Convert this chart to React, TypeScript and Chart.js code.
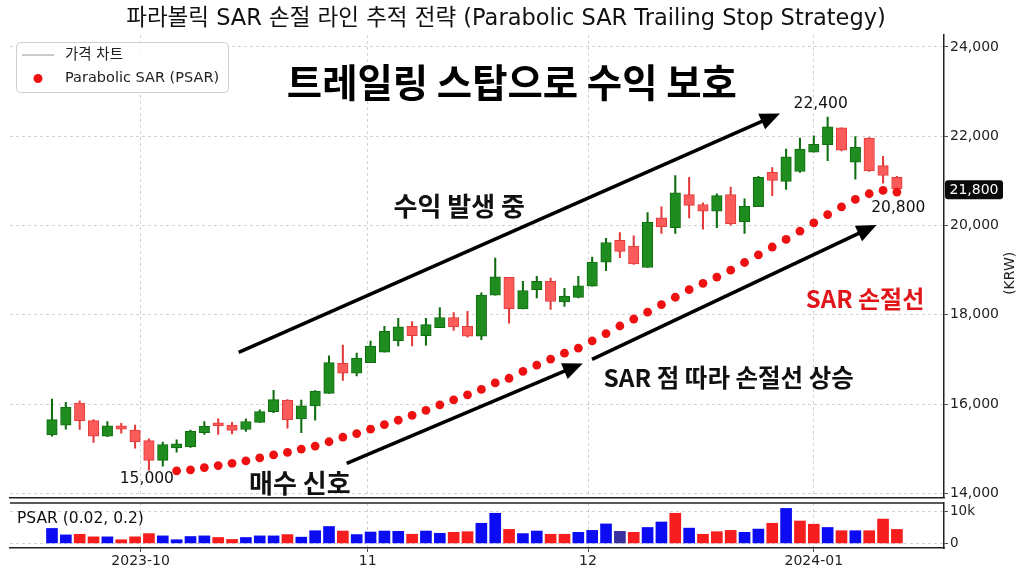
import React, { useEffect, useRef } from "react";
import { Chart, registerables } from "chart.js";

Chart.register(...registerables);

// ---------- data ----------
const opens = [
  15310, 15530, 16020, 15630, 15280, 15510, 15420, 15180, 14740, 15020,
  15040, 15360, 15580, 15530, 15430, 15590, 15830, 16090, 15670, 15960,
  16240, 16910, 16690, 16930, 17160, 17420, 17740, 17530, 17710, 17940,
  17740, 17520, 18440, 18840, 18130, 18560, 18750, 18290, 18390, 18640,
  19180, 19670, 19540, 19060, 20170, 19950, 20690, 20470, 20320, 20690,
  20080, 20420, 21190, 20990, 21210, 21640, 21810, 22190, 21420, 21960,
  21340, 21080,
];
const highs = [
  16110, 16040, 16070, 15650, 15610, 15570, 15530, 15220, 15150, 15200,
  15420, 15610, 15670, 15590, 15670, 15870, 16310, 16100, 16090, 16300,
  17080, 17320, 17140, 17410, 17740, 17920, 17850, 17920, 18160, 18050,
  18080, 18490, 19270, 18840, 18750, 18860, 18820, 18590, 18860, 19290,
  19710, 19840, 19770, 20290, 20420, 21120, 21080, 20510, 20710, 20860,
  20600, 21100, 21300, 21710, 21960, 22010, 22430, 22190, 21990, 21970,
  21550, 21100,
];
const lows = [
  15280, 15440, 15430, 15140, 15270, 15350, 15010, 14520, 14610, 14920,
  15030, 15320, 15320, 15330, 15390, 15590, 15810, 15460, 15360, 15640,
  16240, 16530, 16630, 16930, 17160, 17300, 17300, 17320, 17710, 17650,
  17500, 17440, 18440, 17810, 18130, 18380, 18120, 18190, 18380, 18640,
  18990, 19280, 19130, 19060, 19820, 19820, 20170, 19920, 19950, 20010,
  19820, 20420, 20670, 20810, 21190, 21640, 21450, 21670, 21040, 21210,
  20950, 20710,
];
const closes = [
  15650, 15930, 15630, 15280, 15510, 15440, 15150, 14740, 15090, 15110,
  15390, 15500, 15510, 15410, 15610, 15830, 16100, 15650, 15960, 16290,
  16930, 16690, 17030, 17300, 17630, 17730, 17530, 17780, 17940, 17730,
  17520, 18440, 18850, 18130, 18540, 18750, 18300, 18420, 18650, 19180,
  19620, 19420, 19140, 20070, 19970, 20730, 20450, 20320, 20670, 20040,
  20430, 21080, 21010, 21540, 21710, 21820, 22210, 21690, 21750, 21220,
  21120, 20820,
];
const sarValues: (number | null)[] = [
  null, null, null, null, null, null, null, null, null,
  14505, 14527, 14578, 14622, 14673, 14727, 14793, 14860, 14918, 14993,
  15060, 15156, 15260, 15340, 15438, 15540, 15638, 15749, 15860, 15984,
  16096, 16207, 16327, 16473, 16578, 16733, 16873, 17007, 17140, 17251,
  17416, 17578, 17749, 17905, 18059, 18229, 18393, 18562, 18704, 18844,
  19000, 19171, 19340, 19518, 19689, 19873, 20060, 20244, 20416, 20584,
  20711, 20785, 20748,
];
const volumes = [
  4600, 2600, 2800, 2000, 2000, 1100, 2000, 3000, 2300, 1100,
  2100, 2300, 1800, 1200, 1800, 2300, 2300, 2700, 1900, 3900,
  5200, 3800, 2700, 3500, 3800, 3700, 2800, 3800, 3100, 3400,
  3600, 6200, 9300, 4300, 3000, 3800, 2800, 2800, 3400, 4000,
  6000, 3700, 3400, 4900, 6600, 9300, 4700, 2800, 3600, 4000,
  3400, 4400, 6200, 10800, 6900, 5900, 4900, 3900, 3900, 3900,
  7500, 4300,
];
const volumeTones = (
  "bbrrbrrrbb" + "bbrrbbbrbb" + "brbbbbrbbr" + "rbbrbbrrbb" +
  "bprbbrbrrr" + "bbrbrrbrbr" + "rr"
).split("");

const monthTickPos = [6.4, 22.8, 38.7, 55.0];
const monthTickLabels = ["2023-10", "11", "12", "2024-01"];
const priceTicks = [14000, 16000, 18000, 20000, 22000, 24000];
const volumeTicks = [0, 10000];

const titleText = "파라볼릭 SAR 손절 라인 추적 전략 (Parabolic SAR Trailing Stop Strategy)";
const headingText = "트레일링 스탑으로 수익 보호";
const legendLabels = ["가격 차트", "Parabolic SAR (PSAR)"];
const indicatorLabel = "PSAR (0.02, 0.2)";
const axisUnitLabel = "(KRW)";
const lastPriceBadge = { text: "21,800", at: 20800 };

// annotation anchors in data space: [index, price]
const headingAt: [number, number] = [33.2, 23200];
const boldNotes: { text: string; at: [number, number]; size: number; width: number; color: string }[] = [
  { text: "수익 발생 중", at: [29.4, 20444], size: 26, width: 138, color: "#111" },
  { text: "매수 신호", at: [17.9, 14229], size: 26, width: 106, color: "#111" },
  { text: "SAR 점 따라 손절선 상승", at: [48.85, 16600], size: 24.5, width: 262, color: "#111" },
  { text: "SAR 손절선", at: [58.7, 18356], size: 24, width: 124, color: "#e0161b" },
];
const priceNotes: { text: string; at: [number, number] }[] = [
  { text: "22,400", at: [55.5, 22722] },
  { text: "20,800", at: [61.1, 20389] },
  { text: "15,000", at: [6.85, 14318] },
];
const arrows: [number, number, number, number][] = [
  [13.48, 17156, 52.56, 22511],
  [21.28, 14674, 38.32, 16911],
  [38.99, 17000, 59.53, 20011],
];

// ---------- style ----------
const LATIN = '"DejaVu Sans", "Noto Sans CJK KR", sans-serif';
const KR = '"Noto Sans CJK KR", "DejaVu Sans", sans-serif';
const GRID = "rgba(0,0,0,0.22)";
const AXIS = "#222";
const UP_FILL = "#1e8c1e";
const UP_EDGE = "#0f6d0f";
const DN_FILL = "#fb5b5b";
const DN_EDGE = "#e23b3b";
const SAR_RED = "#ee1111";
const TONES: Record<string, string> = { b: "#0c0cf2", r: "#f51d1d", p: "#3a2f9e" };

const X_MIN = -3.03;
const X_MAX = 64.4;
const Y_MIN = 13905;
const Y_MAX = 24267;
const V_MIN = -1455;
const V_MAX = 12477;

const idx = opens.map((_, i) => i);
const isUp = idx.map((i) => closes[i] >= opens[i]);

function drawArrow(ctx: CanvasRenderingContext2D, x1: number, y1: number, x2: number, y2: number) {
  const headLen = 20;
  const headW = 8.5;
  const a = Math.atan2(y2 - y1, x2 - x1);
  const bx = x2 - headLen * Math.cos(a);
  const by = y2 - headLen * Math.sin(a);
  ctx.strokeStyle = "#000";
  ctx.fillStyle = "#000";
  ctx.lineWidth = 3.5;
  ctx.lineCap = "butt";
  ctx.beginPath();
  ctx.moveTo(x1, y1);
  ctx.lineTo(bx + Math.cos(a) * 2, by + Math.sin(a) * 2);
  ctx.stroke();
  ctx.beginPath();
  ctx.moveTo(x2, y2);
  ctx.lineTo(bx + headW * Math.sin(a), by - headW * Math.cos(a));
  ctx.lineTo(bx - headW * Math.sin(a), by + headW * Math.cos(a));
  ctx.closePath();
  ctx.fill();
}

const mainOverlay = {
  id: "mainOverlay",
  afterDraw(chart: any) {
    const { ctx, chartArea: ca } = chart;
    const xs = chart.scales.x;
    const ys = chart.scales.y;
    const px = (i: number) => xs.getPixelForValue(i);
    const py = (v: number) => ys.getPixelForValue(v);
    ctx.save();
    ctx.textAlign = "center";
    ctx.textBaseline = "middle";

    // title
    ctx.fillStyle = "#111";
    ctx.font = `22.5px ${LATIN}`;
    ctx.fillText(titleText, 506, 19, 766);

    // legend
    const lx = ca.left + 6;
    const ly = ca.top + 7;
    ctx.fillStyle = "rgba(255,255,255,0.85)";
    ctx.strokeStyle = "#cfcfcf";
    ctx.lineWidth = 1;
    ctx.beginPath();
    ctx.roundRect(lx + 0.5, ly + 0.5, 212, 50, 4);
    ctx.fill();
    ctx.stroke();
    ctx.strokeStyle = "#8f9a8f";
    ctx.lineWidth = 1;
    ctx.beginPath();
    ctx.moveTo(lx + 6, ly + 13);
    ctx.lineTo(lx + 38, ly + 13);
    ctx.stroke();
    ctx.fillStyle = SAR_RED;
    ctx.beginPath();
    ctx.arc(lx + 22, ly + 36.5, 4.5, 0, Math.PI * 2);
    ctx.fill();
    ctx.fillStyle = "#222";
    ctx.textAlign = "left";
    ctx.font = `14.5px ${LATIN}`;
    ctx.fillText(legendLabels[0], lx + 49, ly + 13);
    ctx.fillText(legendLabels[1], lx + 49, ly + 36.5);

    // heading
    ctx.textAlign = "center";
    ctx.fillStyle = "#000";
    ctx.font = `bold 39px ${KR}`;
    ctx.fillText(headingText, px(headingAt[0]), py(headingAt[1]), 450);

    // arrows
    arrows.forEach(([i1, v1, i2, v2]) => drawArrow(ctx, px(i1), py(v1), px(i2), py(v2)));

    // bold notes
    boldNotes.forEach((n) => {
      ctx.fillStyle = n.color;
      ctx.font = `bold ${n.size}px ${KR}`;
      ctx.fillText(n.text, px(n.at[0]), py(n.at[1]), n.width);
    });

    // price notes
    ctx.fillStyle = "#111";
    ctx.font = `15.5px ${LATIN}`;
    priceNotes.forEach((n) => ctx.fillText(n.text, px(n.at[0]), py(n.at[1])));

    // last price badge
    const by = py(lastPriceBadge.at);
    ctx.fillStyle = "#0a0a0a";
    ctx.beginPath();
    ctx.roundRect(ca.right + 1, by - 9.5, 58, 19, 3);
    ctx.fill();
    ctx.fillStyle = "#fff";
    ctx.font = `14px ${LATIN}`;
    ctx.fillText(lastPriceBadge.text, ca.right + 30, by + 0.5);

    // axis unit
    ctx.fillStyle = "#222";
    ctx.translate(1010, (ca.top + ca.bottom) / 2 + 7);
    ctx.rotate(-Math.PI / 2);
    ctx.font = `14px ${LATIN}`;
    ctx.fillText(axisUnitLabel, 0, 0);
    ctx.restore();
  },
};

const volOverlay = {
  id: "volOverlay",
  afterDraw(chart: any) {
    const { ctx, chartArea: ca } = chart;
    ctx.save();
    ctx.strokeStyle = AXIS;
    ctx.lineWidth = 1.5;
    ctx.beginPath();
    ctx.moveTo(ca.left, ca.top);
    ctx.lineTo(ca.right, ca.top);
    ctx.stroke();
    ctx.fillStyle = "#111";
    ctx.font = `15.5px ${LATIN}`;
    ctx.textAlign = "left";
    ctx.textBaseline = "middle";
    ctx.fillText(indicatorLabel, ca.left + 7, ca.top + 16);
    ctx.restore();
  },
};

function xScale(showLabels: boolean) {
  return {
    type: "linear" as const,
    min: X_MIN,
    max: X_MAX,
    offset: false,
    afterBuildTicks: (ax: any) => {
      ax.ticks = monthTickPos.map((v) => ({ value: v }));
    },
    ticks: {
      display: showLabels,
      autoSkip: false,
      maxRotation: 0,
      padding: 1,
      color: AXIS,
      font: { family: LATIN, size: 14 },
      callback: (v: any) => monthTickLabels[monthTickPos.indexOf(Number(v))] ?? "",
    },
    grid: {
      color: GRID,
      lineWidth: 0.8,
      drawTicks: showLabels,
      tickLength: 4,
      tickColor: AXIS,
      offset: false,
    },
    border: { display: true, color: AXIS, width: 1.5, dash: [3, 3] },
    afterFit: (ax: any) => {
      ax.height = showLabels ? 26 : 0;
      ax.paddingLeft = 0;
      ax.paddingRight = 0;
    },
  };
}

export default function App() {
  const mainRef = useRef<HTMLCanvasElement>(null);
  const volRef = useRef<HTMLCanvasElement>(null);

  useEffect(() => {
    const main = new Chart(mainRef.current as HTMLCanvasElement, {
      type: "bar",
      data: {
        datasets: [
          {
            type: "line",
            label: legendLabels[1],
            data: idx
              .filter((i) => sarValues[i] !== null)
              .map((i) => ({ x: i, y: sarValues[i] as number })),
            showLine: false,
            pointRadius: 4.4,
            pointHoverRadius: 4.4,
            pointBackgroundColor: SAR_RED,
            pointBorderWidth: 0,
            borderColor: SAR_RED,
            order: 0,
          } as any,
          {
            type: "bar",
            label: "body",
            data: idx.map((i) => ({ x: i, y: [opens[i], closes[i]] })),
            backgroundColor: idx.map((i) => (isUp[i] ? UP_FILL : DN_FILL)),
            borderColor: idx.map((i) => (isUp[i] ? UP_EDGE : DN_EDGE)),
            borderWidth: 1,
            borderSkipped: false,
            barThickness: 10.5,
            grouped: false,
            order: 1,
          } as any,
          {
            type: "bar",
            label: "wick",
            data: idx.map((i) => ({ x: i, y: [lows[i], highs[i]] })),
            backgroundColor: idx.map((i) => (isUp[i] ? UP_EDGE : DN_EDGE)),
            borderWidth: 0,
            barThickness: 1.4,
            grouped: false,
            order: 2,
          } as any,
        ],
      },
      options: {
        animation: false,
        responsive: true,
        maintainAspectRatio: false,
        devicePixelRatio: 1,
        layout: { padding: { left: 10, top: 35, right: 0, bottom: 1 } },
        plugins: { legend: { display: false }, tooltip: { enabled: false }, title: { display: false } },
        events: [],
        scales: {
          x: xScale(false) as any,
          y: {
            type: "linear",
            position: "right",
            min: Y_MIN,
            max: Y_MAX,
            afterBuildTicks: (ax: any) => {
              ax.ticks = priceTicks.map((v) => ({ value: v }));
            },
            ticks: {
              color: AXIS,
              padding: 2,
              font: { family: LATIN, size: 14 },
              callback: (v: any) => Number(v).toLocaleString("en-US"),
            },
            grid: { color: GRID, lineWidth: 0.8, tickLength: 4, tickColor: AXIS },
            border: { display: true, color: AXIS, width: 1.5, dash: [3, 3] },
            afterFit: (ax: any) => {
              ax.width = 80;
              ax.paddingTop = 0;
              ax.paddingBottom = 0;
            },
          } as any,
        },
      },
      plugins: [mainOverlay],
    });

    const vol = new Chart(volRef.current as HTMLCanvasElement, {
      type: "bar",
      data: {
        datasets: [
          {
            label: "volume",
            data: idx.map((i) => ({ x: i, y: volumes[i] })),
            backgroundColor: idx.map((i) => TONES[volumeTones[i]]),
            borderWidth: 0,
            barThickness: 11,
            grouped: false,
          } as any,
        ],
      },
      options: {
        animation: false,
        responsive: true,
        maintainAspectRatio: false,
        devicePixelRatio: 1,
        layout: { padding: { left: 10, top: 3, right: 0, bottom: 0 } },
        plugins: { legend: { display: false }, tooltip: { enabled: false } },
        events: [],
        scales: {
          x: xScale(true) as any,
          y: {
            type: "linear",
            position: "right",
            min: V_MIN,
            max: V_MAX,
            afterBuildTicks: (ax: any) => {
              ax.ticks = volumeTicks.map((v) => ({ value: v }));
            },
            ticks: {
              color: AXIS,
              padding: 2,
              font: { family: LATIN, size: 13.5 },
              callback: (v: any) => (Number(v) === 0 ? "0" : `${Number(v) / 1000}k`),
            },
            grid: { color: GRID, lineWidth: 0.8, tickLength: 4, tickColor: AXIS },
            border: { display: true, color: AXIS, width: 1.5, dash: [3, 3] },
            afterFit: (ax: any) => {
              ax.width = 80;
              ax.paddingTop = 0;
              ax.paddingBottom = 0;
            },
          } as any,
        },
      },
      plugins: [volOverlay],
    });

    return () => {
      main.destroy();
      vol.destroy();
    };
  }, []);

  return (
    <div style={{ position: "fixed", left: 0, top: 0, width: 1024, height: 574, background: "#fff" }}>
      <div style={{ position: "absolute", left: 0, top: 0, width: 1024, height: 502 }}>
        <canvas ref={mainRef} />
      </div>
      <div style={{ position: "absolute", left: 0, top: 500, width: 1024, height: 74 }}>
        <canvas ref={volRef} />
      </div>
    </div>
  );
}
